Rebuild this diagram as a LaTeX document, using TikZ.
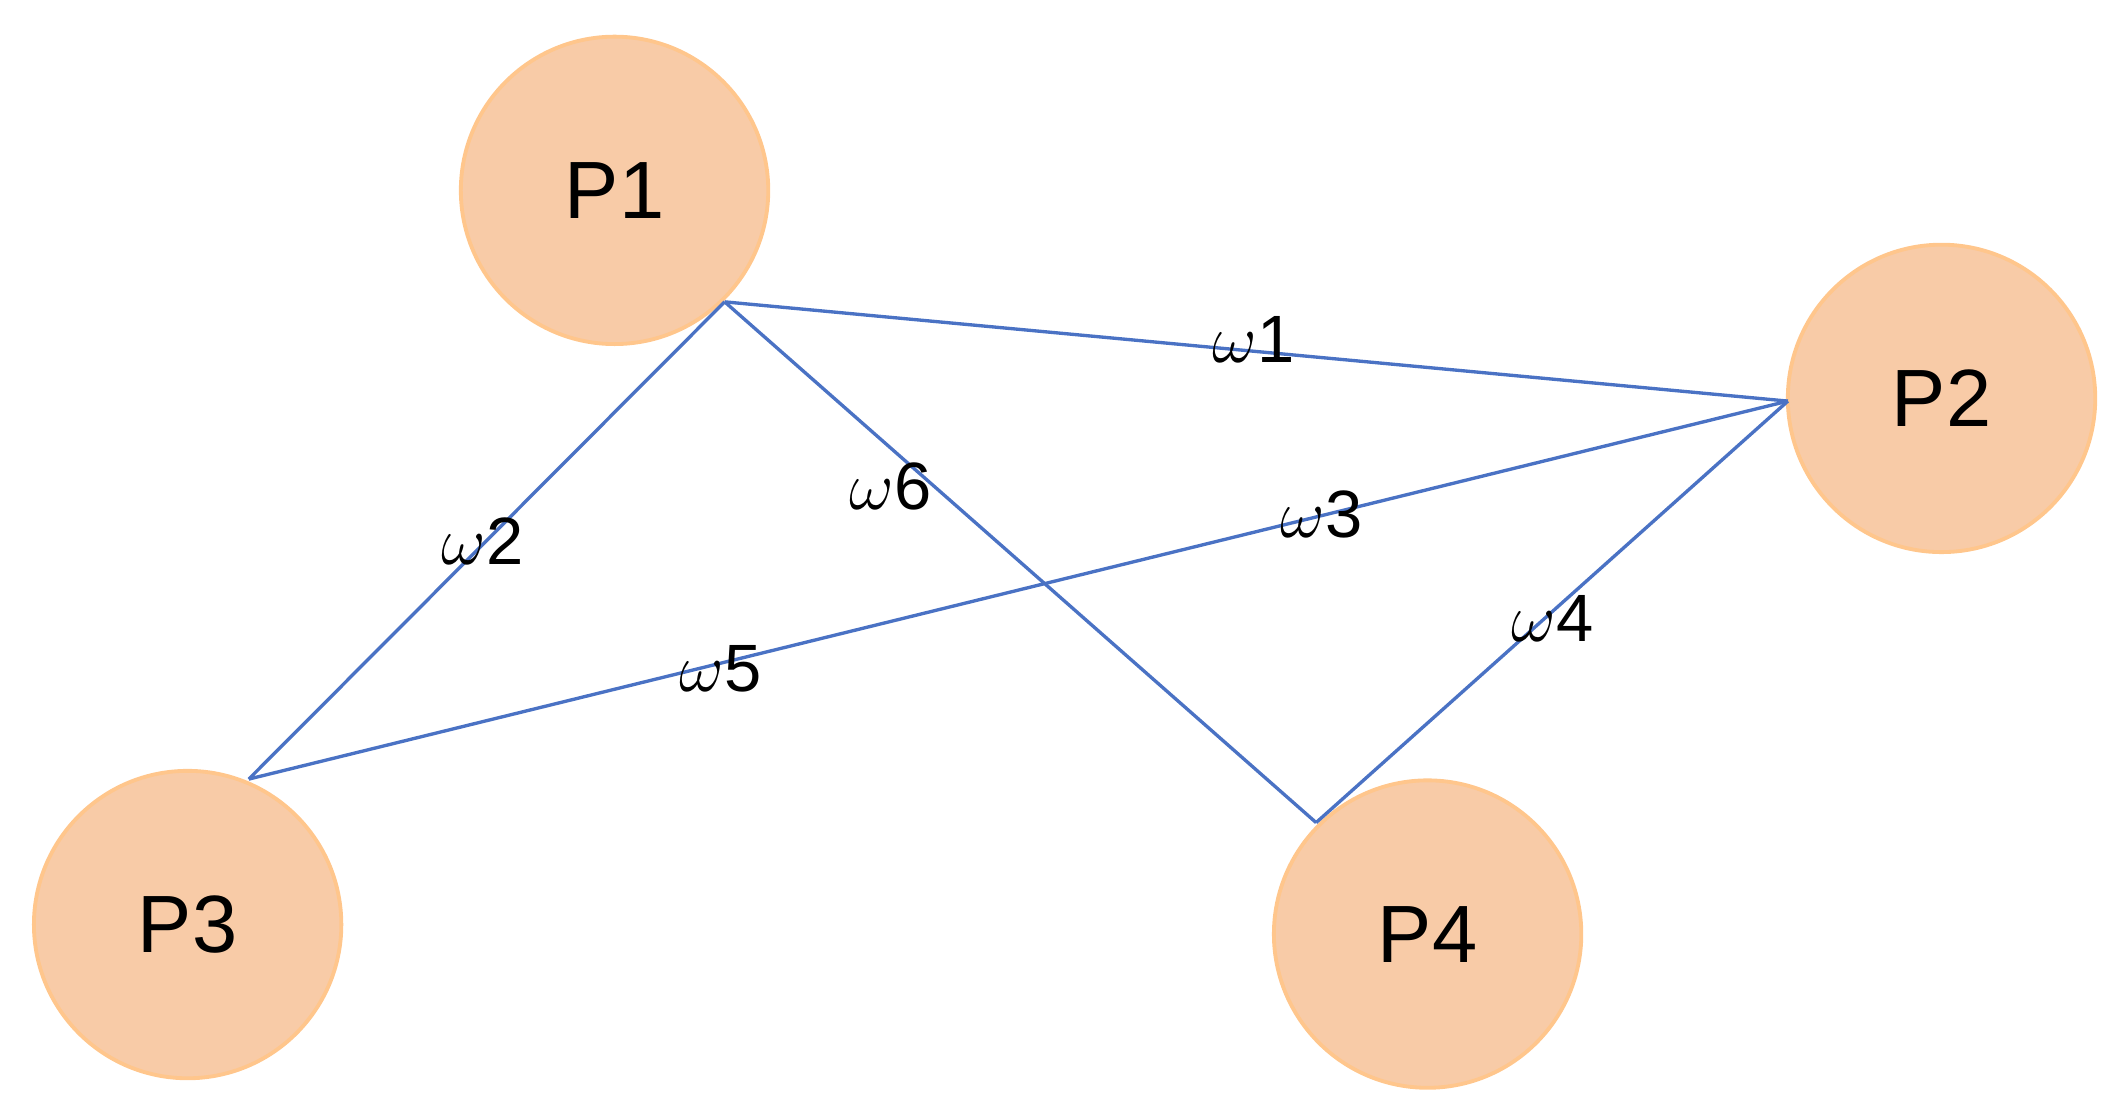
\documentclass[tikz,border=0pt]{standalone}
\usepackage{fontspec}
\setmainfont{Liberation Sans}
\begin{document}
\begin{tikzpicture}[x=0.01cm,y=-0.01cm,
  pnode/.style={circle,draw=orange!45!white,fill=peach,line width=0.8pt,minimum size=2.26cm,inner sep=0pt,font=\fontsize{17}{20}\selectfont},
  edge/.style={draw=lineblue,line width=0.7pt},
  wlabel/.style={font=\fontsize{14}{16}\selectfont,inner sep=1pt}]
\definecolor{peach}{HTML}{F8CBA7}
\definecolor{lineblue}{HTML}{4A72C4}
\useasboundingbox (0,0) rectangle (1560,823);
\node[pnode] (P1) at (452,140) {P1};
\node[pnode] (P2) at (1428,293) {P2};
\node[pnode] (P3) at (138,680) {P3};
\node[pnode] (P4) at (1050,687) {P4};
\coordinate (a1) at (533,222);
\coordinate (a2) at (1315,295);
\coordinate (a3) at (183,573);
\coordinate (a4) at (968,605);
\draw[edge] (a1) -- (a2);
\draw[edge] (a1) -- (a3);
\draw[edge] (a1) -- (a4);
\draw[edge] (a3) -- (a2);
\draw[edge] (a4) -- (a2);
\node[wlabel] (w1) at (922,250) {$\omega$1};
\node[wlabel] (w2) at (355,398) {$\omega$2};
\node[wlabel] (w6) at (655,358) {$\omega$6};
\node[wlabel] (w3) at (972,378) {$\omega$3};
\node[wlabel] (w4) at (1142,455) {$\omega$4};
\node[wlabel] (w5) at (530,492) {$\omega$5};
\end{tikzpicture}
\end{document}
